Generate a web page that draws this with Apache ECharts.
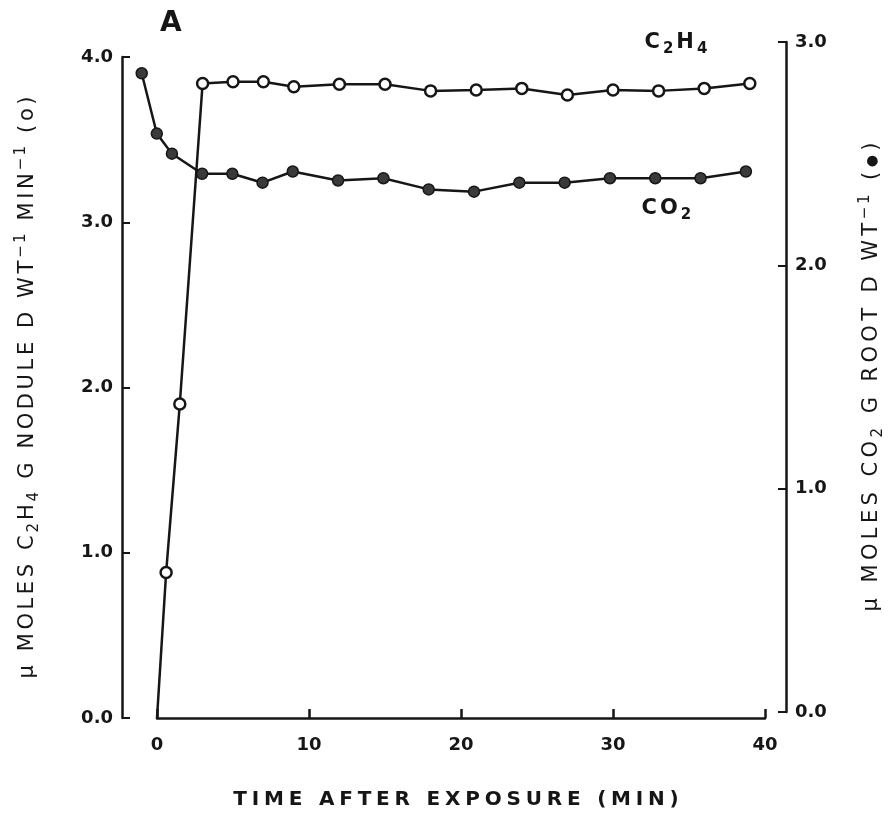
<!DOCTYPE html>
<html>
<head>
<meta charset="utf-8">
<script src="https://cdn.jsdelivr.net/npm/echarts@6/dist/echarts.min.js"></script>
<style>html,body{margin:0;padding:0;background:#fff;}#c{width:894px;height:818px;}</style>
</head>
<body>
<div id="c"></div>
<script>
// ---- data ----
const c2h4Time = [0, 0.6, 1.5, 3, 5, 7, 9, 12, 15, 18, 21, 24, 27, 30, 33, 36, 39];
const c2h4Val  = [0, 0.88, 1.90, 3.84, 3.85, 3.85, 3.82, 3.835, 3.835, 3.795, 3.80, 3.81, 3.77, 3.80, 3.795, 3.81, 3.84];
const co2Time  = [-1, 0, 1, 3, 5, 7, 9, 12, 15, 18, 21, 24, 27, 30, 33, 36, 39];
const co2Val   = [2.86, 2.59, 2.50, 2.41, 2.41, 2.37, 2.42, 2.38, 2.39, 2.34, 2.33, 2.37, 2.37, 2.39, 2.39, 2.39, 2.42];
const xTicks = [0, 10, 20, 30, 40];
const leftTicks = [0, 1, 2, 3, 4];
const rightTicks = [0, 1, 2, 3];

const FONT = 'DejaVu Sans';
const INK = '#161616';

// layout constants (pixels)
const PLOT_LEFT = 157, PLOT_RIGHT = 129;
const PX_PER_MIN = (894 - PLOT_LEFT - PLOT_RIGHT) / (xTicks[xTicks.length - 1] - xTicks[0]);
const CO2_XMIN = -2;

const chart = echarts.init(document.getElementById('c'));

const c2h4Data = c2h4Time.map((t, i) => i === 0 ? { value: [t, c2h4Val[i]], symbolSize: 0 } : [t, c2h4Val[i]]);
const co2Data = co2Time.map((t, i) => [t, co2Val[i]]);

// letter-spaced rich text: each piece [text, style]
function spaced(pieces) {
  return pieces.map(([txt, cls]) => txt.split('').map(ch => '{' + cls + '|' + ch + '}').join('')).join('');
}

function nameRich(pad) {
  return {
    n: { fontFamily: FONT, fontSize: 21, color: INK, lineHeight: 28, verticalAlign: 'middle', padding: [0, pad] },
    sub: { fontFamily: FONT, fontSize: 15, color: INK, lineHeight: 15, verticalAlign: 'bottom', padding: [0, pad * 0.6] },
    sup: { fontFamily: FONT, fontSize: 15, color: INK, lineHeight: 15, verticalAlign: 'top', padding: [0, pad * 0.6] },
    dot: { fontFamily: FONT, fontSize: 14, color: INK, lineHeight: 28, verticalAlign: 'middle', padding: [0, pad] }
  };
}

const leftName = spaced([['μ MOLES C', 'n'], ['2', 'sub'], ['H', 'n'], ['4', 'sub'], [' G NODULE D WT', 'n'],
  ['−1', 'sup'], [' MIN', 'n'], ['−1', 'sup'], [' (o)', 'n']]);
const rightName = spaced([['μ MOLES CO', 'n'], ['2', 'sub'], [' G ROOT D WT', 'n'], ['−1', 'sup'],
  [' (', 'n'], ['●', 'dot'], [')', 'n']]);
const xName = spaced([['TIME AFTER EXPOSURE (MIN)', 'n']]);

const labelRich = {
  n: { fontFamily: FONT, fontSize: 21, fontWeight: 'bold', fill: INK, lineHeight: 28, verticalAlign: 'middle', padding: [0, 1.5] },
  sub: { fontFamily: FONT, fontSize: 15, fontWeight: 'bold', fill: INK, lineHeight: 15, verticalAlign: 'bottom', padding: [0, 1.5] }
};

const option = {
  backgroundColor: '#fff',
  animation: false,
  grid: [
    { left: PLOT_LEFT, right: PLOT_RIGHT, top: 57, bottom: 100 },
    { left: PLOT_LEFT + CO2_XMIN * PX_PER_MIN, right: PLOT_RIGHT, top: 42, bottom: 106 }
  ],
  xAxis: [
    {
      gridIndex: 0, type: 'value', min: xTicks[0], max: xTicks[xTicks.length - 1], interval: 10,
      axisLine: { show: true, onZero: false, lineStyle: { color: INK, width: 2.5 } },
      axisTick: { show: true, inside: true, length: 9, lineStyle: { color: INK, width: 2.5 } },
      axisLabel: { margin: 18, fontFamily: FONT, fontSize: 18, fontWeight: 'bold', color: INK },
      splitLine: { show: false }
    },
    {
      gridIndex: 1, type: 'value', min: CO2_XMIN, max: xTicks[xTicks.length - 1], show: false
    }
  ],
  yAxis: [
    {
      gridIndex: 0, type: 'value', position: 'left', offset: 35,
      min: leftTicks[0], max: leftTicks[leftTicks.length - 1], interval: 1,
      axisLine: { show: true, onZero: false, lineStyle: { color: INK, width: 2.5 } },
      axisTick: { show: true, inside: true, length: 8, lineStyle: { color: INK, width: 2 } },
      axisLabel: { margin: 9, fontFamily: FONT, fontSize: 18, fontWeight: 'bold', color: INK,
        formatter: v => v.toFixed(1) },
      splitLine: { show: false },
      name: leftName,
      nameLocation: 'middle', nameRotate: 90, nameGap: 80,
      nameTextStyle: { rich: nameRich(1.8) }
    },
    {
      gridIndex: 1, type: 'value', position: 'right', offset: 25,
      min: rightTicks[0], max: rightTicks[rightTicks.length - 1], interval: 1,
      axisLine: { show: true, onZero: false, lineStyle: { color: INK, width: 2.5 } },
      axisTick: { show: true, inside: true, length: 8, lineStyle: { color: INK, width: 2 } },
      axisLabel: { margin: 9, fontFamily: FONT, fontSize: 18, fontWeight: 'bold', color: INK,
        formatter: v => v.toFixed(1) },
      splitLine: { show: false },
      name: rightName,
      nameLocation: 'middle', nameRotate: 90, nameGap: 72,
      nameTextStyle: { rich: nameRich(2.2) }
    }
  ],
  series: [
    {
      name: 'C2H4', type: 'line', xAxisIndex: 0, yAxisIndex: 0, data: c2h4Data,
      clip: false, symbol: 'circle', symbolSize: 11,
      lineStyle: { color: INK, width: 2.5 },
      itemStyle: { color: '#fff', borderColor: INK, borderWidth: 2.5 },
      z: 3
    },
    {
      name: 'CO2', type: 'line', xAxisIndex: 1, yAxisIndex: 1, data: co2Data,
      clip: false, symbol: 'circle', symbolSize: 11,
      lineStyle: { color: INK, width: 2.5 },
      itemStyle: { color: '#3a3a3a', borderColor: INK, borderWidth: 1.5 },
      z: 3
    }
  ],
  graphic: [
    { type: 'text', left: 160, top: 10, style: { text: 'A', font: 'bold 28px ' + FONT, fill: INK } },
    { type: 'text', left: 643, top: 32, style: {
        text: spaced([['C', 'n'], ['2', 'sub'], ['H', 'n'], ['4', 'sub']]), rich: labelRich } },
    { type: 'text', left: 640, top: 198, style: {
        text: spaced([['CO', 'n'], ['2', 'sub']]), rich: labelRich } },
    { type: 'text', x: 456, y: 800, style: { text: xName, align: 'center', verticalAlign: 'middle',
        rich: { n: { fontFamily: FONT, fontSize: 20, fontWeight: 'bold', fill: INK, padding: [0, 2.4] } } } }
  ]
};

chart.setOption(option);
</script>
</body>
</html>
